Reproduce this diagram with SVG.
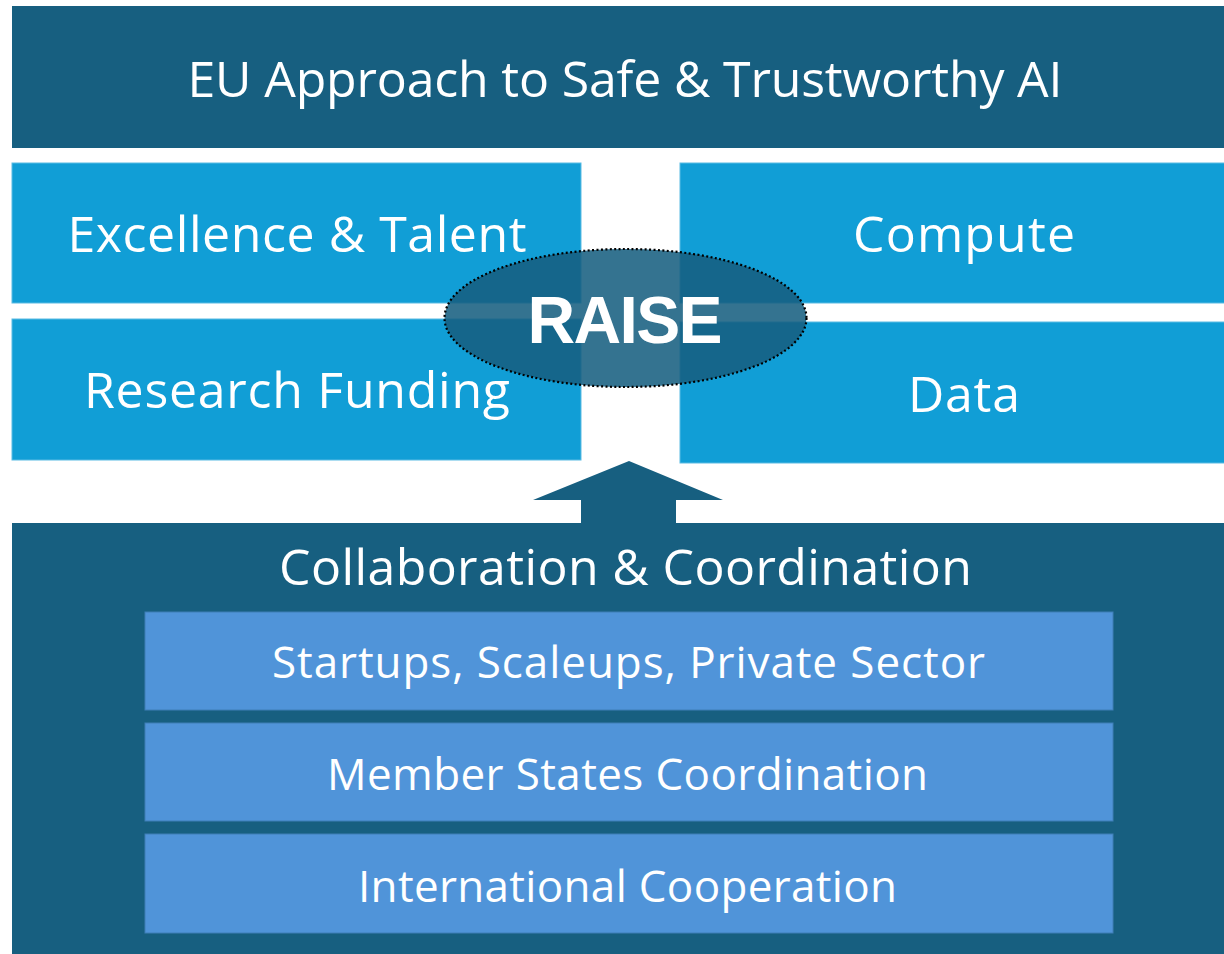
<svg xmlns="http://www.w3.org/2000/svg" width="1224" height="954" viewBox="0 0 1224 954">
<style>
.dark{fill:#175f80;}
.mid{fill:#119ed6;stroke:#5bbbe3;stroke-width:1;}
.light{fill:#5094d9;stroke:#3f7fb6;stroke-width:1;}
.t{font-family:"Open Sans","Noto Sans",sans-serif;fill:#ffffff;text-anchor:middle;}
.big{font-size:50px;}
.small{font-size:44px;}
</style>
<rect width="1224" height="954" fill="#ffffff"/>
<g id="title">
<rect class="dark" x="12" y="6" width="1212" height="142"/>
<text class="t big" x="625" y="97" textLength="875">EU Approach to Safe &amp; Trustworthy AI</text>
</g>
<g id="excellence">
<rect class="mid" x="12" y="163" width="569" height="140"/>
<text class="t big" x="297" y="252" textLength="459">Excellence &amp; Talent</text>
</g>
<g id="research">
<rect class="mid" x="12" y="319" width="569" height="141"/>
<text class="t big" x="297" y="408" textLength="426">Research Funding</text>
</g>
<g id="compute">
<rect class="mid" x="680" y="163" width="545" height="140"/>
<text class="t big" x="964" y="252" textLength="222">Compute</text>
</g>
<g id="data">
<rect class="mid" x="680" y="322" width="545" height="141"/>
<text class="t big" x="964" y="412" textLength="112">Data</text>
</g>
<g id="collab">
<rect class="dark" x="12" y="523" width="1212" height="431"/>
<text class="t big" x="625.5" y="585" textLength="693">Collaboration &amp; Coordination</text>
</g>
<g id="connectors">
<polygon class="dark" points="629,461 723,500 676,500 676,524 581,524 581,500 533,500"/>
</g>
<g id="startups">
<rect class="light" x="145" y="612" width="968" height="98"/>
<text class="t small" x="628.5" y="678" textLength="713">Startups, Scaleups, Private Sector</text>
</g>
<g id="member">
<rect class="light" x="145" y="723" width="968" height="98"/>
<text class="t small" x="627.5" y="790" textLength="601">Member States Coordination</text>
</g>
<g id="international">
<rect class="light" x="145" y="834" width="968" height="99"/>
<text class="t small" x="627.5" y="902" textLength="539">International Cooperation</text>
</g>
<g id="raise">
<ellipse cx="625.5" cy="318" rx="181" ry="69" fill="#165e80" fill-opacity="0.87" stroke="#000000" stroke-width="2.2" stroke-dasharray="2 2.4"/>
<text class="t" x="625" y="343" font-size="66" font-weight="bold" style="font-family:'Liberation Sans',Arial,sans-serif" textLength="195">RAISE</text>
</g>
</svg>
